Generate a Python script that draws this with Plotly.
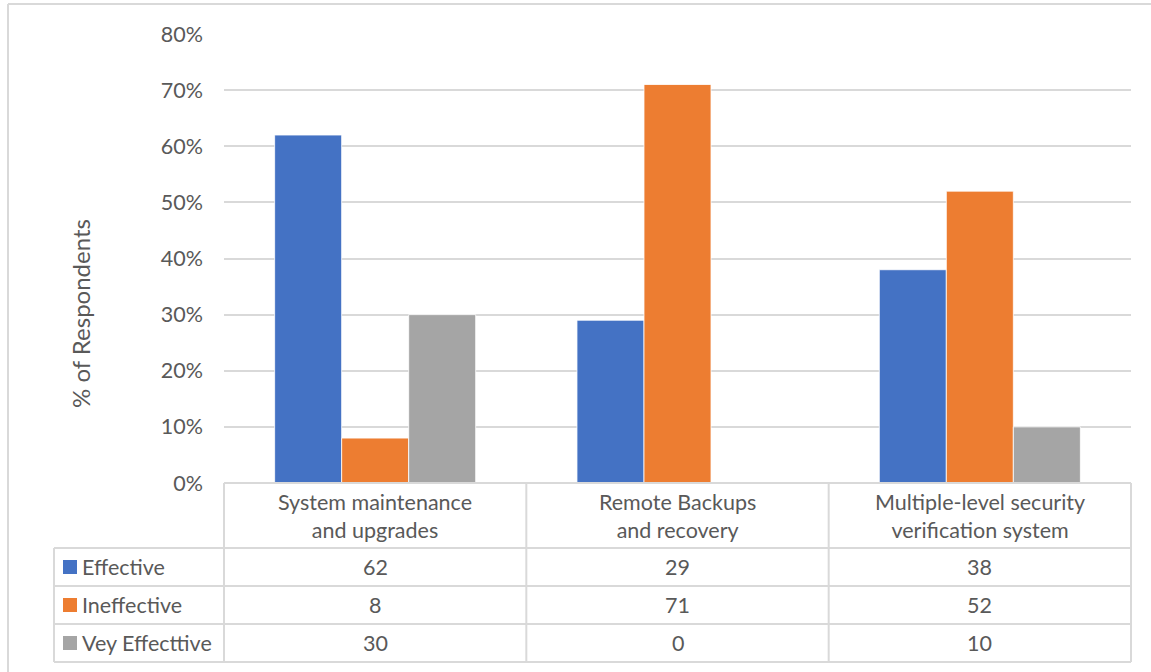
import plotly.graph_objects as go

# Survey results: share of respondents per measure
categories = ["System maintenance<br>and upgrades",
              "Remote Backups<br>and recovery",
              "Multiple-level security<br>verification system"]
effective = [62, 29, 38]
ineffective = [8, 71, 52]
very_effective = [30, 0, 10]
series_names = ["Effective", "Ineffective", "Vey Effecttive"]
series_colors = ["#4472C4", "#ED7D31", "#A5A5A5"]
y_ticks = [0, 10, 20, 30, 40, 50, 60, 70, 80]

W, H = 1151, 672
L, R, T, B = 224, 20, 34, 189
PW, PH = W - L - R, H - T - B
FONT = "Lato"
FS = 21.5
TXT = "#595959"
LINE = "#D9D9D9"


def px(xp):
    return (xp - L) / PW


def py(yp):
    return (H - B - yp) / PH


fig = go.Figure()
series = [effective, ineffective, very_effective]
xs = list(range(len(categories)))
for name, vals, col in zip(series_names, series, series_colors):
    fig.add_trace(go.Bar(
        x=xs, y=vals, name=name, marker=dict(color=col, line=dict(color="white", width=0.8)),
        showlegend=False, hoverinfo="y+name"))

shapes = []
annotations = []

# outer chart frame (left and top edges visible)
shapes.append(dict(type="line", xref="paper", yref="paper", x0=px(8), x1=px(W + 5), y0=py(4), y1=py(4),
                   line=dict(color=LINE, width=2)))
shapes.append(dict(type="line", xref="paper", yref="paper", x0=px(8), x1=px(8), y0=py(4), y1=py(H + 5),
                   line=dict(color=LINE, width=2)))

# data table grid
row_y = [H - B, 548, 586, 624, 662]
table_left = 54
# horizontal lines
for i, yy in enumerate(row_y):
    x0 = 0 if i == 0 else px(table_left)
    shapes.append(dict(type="line", xref="paper", yref="paper", x0=x0, x1=1, y0=py(yy), y1=py(yy),
                       line=dict(color=LINE, width=2)))
# vertical lines at category boundaries
n = len(categories)
for k in range(n + 1):
    shapes.append(dict(type="line", xref="paper", yref="paper", x0=k / n, x1=k / n,
                       y0=py(row_y[0]), y1=py(row_y[-1]), line=dict(color=LINE, width=2)))
shapes.append(dict(type="line", xref="paper", yref="paper", x0=px(table_left), x1=px(table_left),
                   y0=py(row_y[1]), y1=py(row_y[-1]), line=dict(color=LINE, width=2)))

# header: category names
for k, cat in enumerate(categories):
    annotations.append(dict(xref="paper", yref="paper", x=(k + 0.5) / n, y=py((row_y[0] + row_y[1]) / 2),
                            text=cat, showarrow=False, font=dict(family=FONT, size=FS, color=TXT),
                            xanchor="center", yanchor="middle"))

# rows: legend key, series name, values
for r, (name, vals, col) in enumerate(zip(series_names, series, series_colors)):
    yc = (row_y[r + 1] + row_y[r + 2]) / 2
    shapes.append(dict(type="rect", xref="paper", yref="paper", x0=px(63), x1=px(77),
                       y0=py(yc - 7), y1=py(yc + 7), fillcolor=col, line=dict(width=0)))
    annotations.append(dict(xref="paper", yref="paper", x=px(80), y=py(yc), text=name, showarrow=False,
                            font=dict(family=FONT, size=FS, color=TXT), xanchor="left", yanchor="middle"))
    for k, v in enumerate(vals):
        annotations.append(dict(xref="paper", yref="paper", x=(k + 0.5) / n, y=py(yc), text=str(v),
                                showarrow=False, font=dict(family=FONT, size=FS, color=TXT),
                                xanchor="center", yanchor="middle"))

# y-axis title
annotations.append(dict(xref="paper", yref="paper", x=px(80), y=py(314), text="% of Respondents",
                        textangle=-90, showarrow=False, font=dict(family=FONT, size=24, color=TXT),
                        xanchor="center", yanchor="middle"))

fig.update_layout(
    width=W, height=H,
    margin=dict(l=L, r=R, t=T, b=B, autoexpand=False),
    paper_bgcolor="white", plot_bgcolor="white",
    barmode="group", bargap=0.335, bargroupgap=0,
    xaxis=dict(range=[-0.5, n - 0.5], showticklabels=False, ticks="", showgrid=False,
               zeroline=False, showline=False),
    yaxis=dict(range=[0, 80], tickvals=y_ticks, ticktext=[f"{t}%" for t in y_ticks],
               showgrid=True, gridcolor=LINE, gridwidth=1.5, zeroline=False, showline=False,
               ticks="", ticklabelstandoff=20,
               tickfont=dict(family=FONT, size=FS, color=TXT)),
    shapes=shapes, annotations=annotations,
    font=dict(family=FONT, color=TXT),
)

fig.write_html("out.html")
